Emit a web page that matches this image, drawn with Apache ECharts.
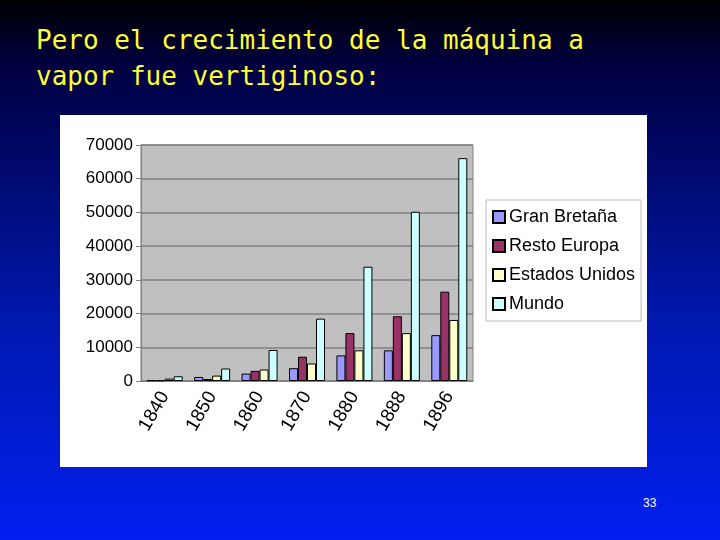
<!DOCTYPE html>
<html><head><meta charset="utf-8">
<script src="https://cdn.jsdelivr.net/npm/echarts@6/dist/echarts.min.js"></script>
<style>
body{margin:0;width:720px;height:540px;overflow:hidden;background:linear-gradient(#000 0%,#000040 12%,#0018b0 60%,#0020f0 100%);}
#t{position:absolute;left:36px;top:22px;color:#ffff33;font:26px "DejaVu Sans Mono",monospace;line-height:36px;}
#p{position:absolute;left:643px;top:496px;color:#fff;font:12px "Liberation Sans";}
#c{position:absolute;left:60px;top:115px;width:587px;height:352px;background:#fff;}
</style></head><body>
<div id="t">Pero el crecimiento de la máquina a<br>vapor fue vertiginoso:</div>
<div id="c"></div>
<div id="p">33</div>
<script>
var years = ['1840','1850','1860','1870','1880','1888','1896'];
var granBretana = [200,1200,2200,3800,7600,9100,13600];
var restoEuropa = [200,600,3000,7200,14200,19200,26500];
var estadosUnidos = [700,1600,3400,5200,9100,14200,18100];
var mundo = [1400,3700,9200,18500,33900,50200,66100];
var names = ['Gran Bretaña','Resto Europa','Estados Unidos','Mundo'];
var colors = ['#9999ff','#993366','#ffffcc','#ccffff'];
var data = [granBretana,restoEuropa,estadosUnidos,mundo];
var chart = echarts.init(document.getElementById('c'));
chart.setOption({
  animation:false,
  textStyle:{fontFamily:'Liberation Sans'},
  grid:{left:81,top:30,width:332,height:236,backgroundColor:'#c0c0c0',show:true,borderColor:'#808080'},
  legend:{orient:'vertical',left:426,top:85,itemWidth:12,itemHeight:12,itemGap:11,padding:[8,6,8,6],
    borderColor:'#bbb',borderWidth:1,textStyle:{fontSize:18,color:'#000',padding:[0,0,0,-1]},icon:'rect',data:names},
  xAxis:{type:'category',data:years,axisLine:{lineStyle:{color:'#808080'}},axisTick:{lineStyle:{color:'#808080'}},
    axisLabel:{rotate:60,fontSize:19,color:'#000',margin:12}},
  yAxis:{type:'value',min:0,max:70000,interval:10000,axisLine:{show:true,lineStyle:{color:'#808080'}},
    axisTick:{show:true},axisLabel:{fontSize:17,color:'#000',formatter:function(v){return String(v);}},splitLine:{lineStyle:{color:'#808080',width:1.5}}},
  series:data.map(function(d,i){return {name:names[i],type:'bar',data:d,barWidth:9,barGap:'0%',
    itemStyle:{color:colors[i],borderColor:'#000',borderWidth:1}};})
});
</script></body></html>
